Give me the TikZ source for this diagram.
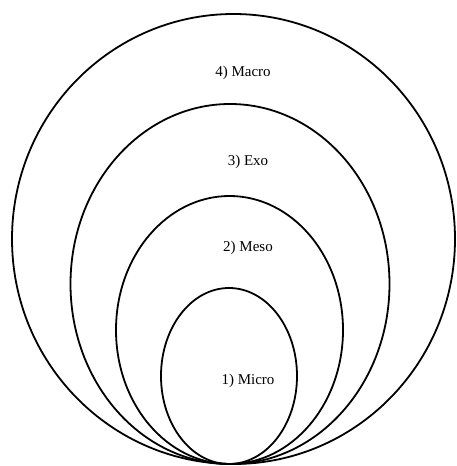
\documentclass[tikz,border=0pt]{standalone}
\usepackage{fontspec}
\setmainfont{Liberation Serif}
\usetikzlibrary{shapes.geometric, positioning}
\tikzset{
    ring/.style={ellipse, draw=black, line width=1.8pt, inner sep=0pt, outer sep=0pt},
    level/.style={font=\fontsize{15}{18}\selectfont, text=black}
}

\begin{document}
\begin{tikzpicture}[x=1pt, y=1pt]
    \useasboundingbox (0,0) rectangle (457,466);

    % Rings, all touching at the bottom
    \node (macro) [ring, minimum width=443pt, minimum height=450pt] at (233.5,227) {};
    \node (exo) [ring, minimum width=319pt, minimum height=360pt] at (230,182) {};
    \node (meso) [ring, minimum width=227pt, minimum height=268pt] at (229.5,136) {};
    \node (micro) [ring, minimum width=136pt, minimum height=176pt] at (229,90) {};

    % Labels
    \node (macrolbl) [level] at (243,393) {4) Macro};
    \node (exolbl) [level] at (248,304) {3) Exo};
    \node (mesolbl) [level] at (248,218) {2) Meso};
    \node (microlbl) [level] at (248,85) {1) Micro};
\end{tikzpicture}
\end{document}
